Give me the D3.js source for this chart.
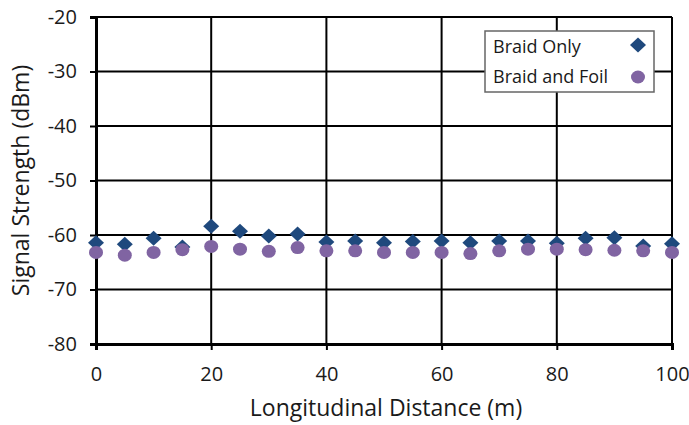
<!DOCTYPE html>
<html><head><meta charset="utf-8">
<script src="https://cdn.jsdelivr.net/npm/d3@7"></script>
<style>body{margin:0;background:#fff}svg{display:block}text{font-family:"Open Sans",sans-serif}</style>
</head><body><div id="chart"></div>
<script>
const distances = [0,5,10,15,20,25,30,35,40,45,50,55,60,65,70,75,80,85,90,95,100];
const braidOnly = [-61.4,-61.7,-60.6,-62.2,-58.4,-59.3,-60.2,-59.8,-61.3,-61.1,-61.4,-61.2,-61.1,-61.4,-61.1,-61.1,-61.5,-60.6,-60.5,-62.0,-61.6];
const braidAndFoil = [-63.2,-63.7,-63.2,-62.7,-62.1,-62.6,-63.0,-62.3,-62.9,-62.9,-63.2,-63.2,-63.2,-63.4,-62.9,-62.6,-62.6,-62.7,-62.8,-62.9,-63.2];
const xTicks = [0,20,40,60,80,100];
const yTicks = [-80,-70,-60,-50,-40,-30,-20];
const seriesNames = ["Braid Only","Braid and Foil"];
const colors = ["#1F497D","#8064A2"];

const W=689,H=425;
const m={left:96,right:W-672,top:17,bottom:H-344};
const svg=d3.select("#chart").append("svg").attr("width",W).attr("height",H);
const x=d3.scaleLinear().domain([0,100]).range([m.left,W-m.right]);
const y=d3.scaleLinear().domain([-80,-20]).range([H-m.bottom,m.top]);

// gridlines
svg.append("g").selectAll("line").data(yTicks).join("line")
 .attr("x1",x(0)).attr("x2",x(100)).attr("y1",d=>y(d)).attr("y2",d=>y(d))
 .attr("stroke","#000").attr("stroke-width",2);
svg.append("g").selectAll("line").data(xTicks).join("line")
 .attr("y1",y(-80)).attr("y2",y(-20)).attr("x1",d=>x(d)).attr("x2",d=>x(d))
 .attr("stroke","#000").attr("stroke-width",2);

// axes
const ya=svg.append("g").attr("transform",`translate(${m.left},0)`)
 .call(d3.axisLeft(y).tickValues(yTicks).tickSize(6).tickPadding(13).tickFormat(d=>String(d)));
const xa=svg.append("g").attr("transform",`translate(0,${H-m.bottom})`)
 .call(d3.axisBottom(x).tickValues(xTicks).tickSize(6).tickPadding(17).tickFormat(d=>String(d)));
[ya,xa].forEach(a=>{
  a.select(".domain").attr("stroke","#000").attr("stroke-width",3);
  a.selectAll(".tick line").attr("stroke","#000").attr("stroke-width",2);
  a.selectAll(".tick text").attr("fill","#1a1a1a").style("font-size","20px").style("font-family","'Open Sans',sans-serif");
});

// axis titles
svg.append("text").attr("x",386).attr("y",416).attr("text-anchor","middle")
 .attr("fill","#1a1a1a").style("font-size","23px").text("Longitudinal Distance (m)");
svg.append("text").attr("transform",`translate(29,${(y(-20)+y(-80))/2}) rotate(-90)`)
 .attr("text-anchor","middle").attr("fill","#1a1a1a").style("font-size","23px").text("Signal Strength (dBm)");

const diamondPath="M0,-7.5L8,0L0,7.5L-8,0Z";
// series
svg.append("g").selectAll("path").data(distances).join("path")
 .attr("d",diamondPath)
 .attr("transform",(d,i)=>`translate(${x(d)},${y(braidOnly[i])})`)
 .attr("fill",colors[0]);
svg.append("g").selectAll("ellipse").data(distances).join("ellipse")
 .attr("cx",d=>x(d)).attr("cy",(d,i)=>y(braidAndFoil[i])).attr("rx",7).attr("ry",6.5)
 .attr("fill",colors[1]);

// legend
const lg=svg.append("g");
lg.append("rect").attr("x",485).attr("y",31).attr("width",169).attr("height",61)
 .attr("fill","#fff").attr("stroke","#666").attr("stroke-width",1.5);
lg.append("text").attr("x",493).attr("y",53).attr("fill","#1a1a1a").style("font-size","18px").text(seriesNames[0]);
lg.append("text").attr("x",493).attr("y",83).attr("fill","#1a1a1a").style("font-size","18px").text(seriesNames[1]);
lg.append("path").attr("d",diamondPath)
 .attr("transform","translate(638,45)").attr("fill",colors[0]);
lg.append("ellipse").attr("cx",638).attr("cy",77).attr("rx",7).attr("ry",6.5).attr("fill",colors[1]);
</script></body></html>
